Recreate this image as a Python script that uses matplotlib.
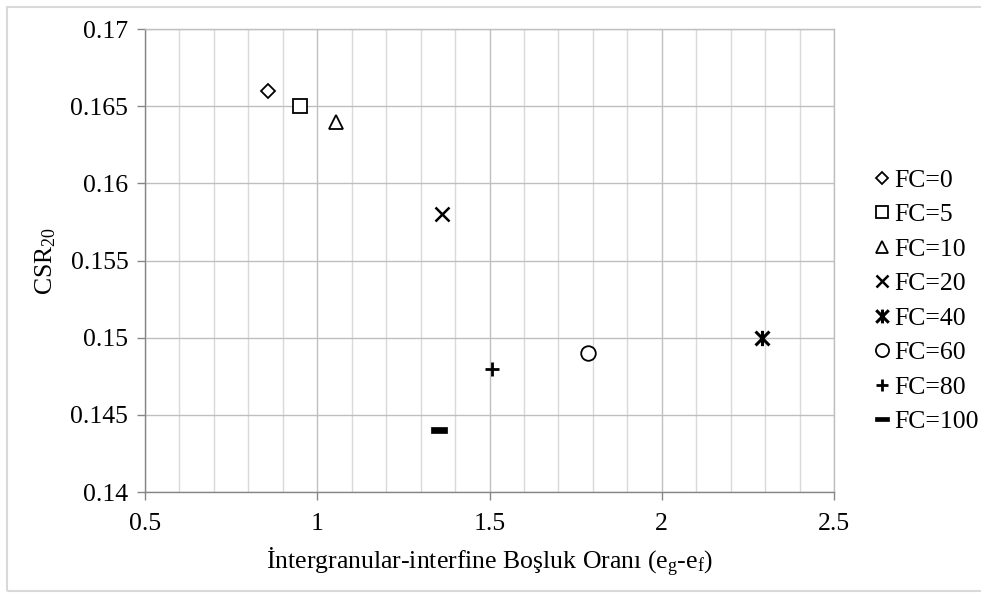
import matplotlib
matplotlib.use('Agg')
import matplotlib.pyplot as plt
from matplotlib.path import Path
from matplotlib.patches import Rectangle
from matplotlib.ticker import MultipleLocator

# Veriler
labels = ['FC=0', 'FC=5', 'FC=10', 'FC=20', 'FC=40', 'FC=60', 'FC=80', 'FC=100']
eg_ef = [0.858, 0.950, 1.053, 1.363, 2.292, 1.786, 1.507, 1.353]
csr20 = [0.166, 0.165, 0.164, 0.158, 0.150, 0.149, 0.148, 0.144]

plt.rcParams['font.family'] = ['Liberation Serif', 'DejaVu Serif']
plt.rcParams['mathtext.fontset'] = 'custom'
plt.rcParams['mathtext.rm'] = 'Liberation Serif'
plt.rcParams['mathtext.it'] = 'Liberation Serif:italic'

FS = 18.5

# Excel tarzı marker'lar
star = Path([(-1, -1), (1, 1), (-1, 1), (1, -1), (0, -1.1), (0, 1.1)],
            [Path.MOVETO, Path.LINETO, Path.MOVETO, Path.LINETO, Path.MOVETO, Path.LINETO])
dash = Path([(-1, -0.32), (1, -0.32), (1, 0.32), (-1, 0.32), (-1, -0.32)],
            [Path.MOVETO, Path.LINETO, Path.LINETO, Path.LINETO, Path.CLOSEPOLY])

styles = [
    dict(marker='D', ms=7, mfc='white', mew=1.3),
    dict(marker='s', ms=10, mfc='white', mew=1.3),
    dict(marker='^', ms=10, mfc='white', mew=1.3),
    dict(marker='x', ms=10, mew=1.8),
    dict(marker=star, ms=11, mew=2.2),
    dict(marker='o', ms=10.5, mfc='white', mew=1.3),
    dict(marker='+', ms=9.5, mew=2.0),
    dict(marker=dash, ms=11.5, mfc='black', mew=0.5),
]

fig = plt.figure(figsize=(9.81, 5.93), dpi=100)
ax = fig.add_axes([145 / 981, 1 - 492 / 593, (834 - 145) / 981, (492 - 29) / 593])

for x, y, lab, st in zip(eg_ef, csr20, labels, styles):
    ax.plot([x], [y], ls='none', color='black', mec='black', label=lab, **st)

ax.set_xlim(0.5, 2.5)
ax.set_ylim(0.14, 0.17)
ax.xaxis.set_major_locator(MultipleLocator(0.5))
ax.xaxis.set_minor_locator(MultipleLocator(0.1))
ax.yaxis.set_major_locator(MultipleLocator(0.005))
ax.set_xticks([0.5, 1, 1.5, 2, 2.5])
ax.set_xticklabels(['0.5', '1', '1.5', '2', '2.5'])
ax.set_yticks([0.14, 0.145, 0.15, 0.155, 0.16, 0.165, 0.17])
ax.set_yticklabels(['0.14', '0.145', '0.15', '0.155', '0.16', '0.165', '0.17'])

ax.grid(True, which='major', color='#bfbfbf', lw=1.0)
ax.grid(True, which='minor', axis='x', color='#d9d9d9', lw=1.0)
ax.set_axisbelow(True)

for s in ['top', 'right']:
    ax.spines[s].set_color('#bfbfbf')
    ax.spines[s].set_linewidth(1.0)
for s in ['left', 'bottom']:
    ax.spines[s].set_color('#868686')
    ax.spines[s].set_linewidth(1.0)

ax.tick_params(which='major', direction='out', length=6, width=1.0, color='#868686',
               labelsize=FS, pad=9)
ax.tick_params(which='minor', length=0)
ax.tick_params(axis='y', pad=6)

ax.set_xlabel(r'İntergranular-interfine Boşluk Oranı (e$_\mathrm{g}$-e$_\mathrm{f}$)',
              fontsize=FS, labelpad=8)
ax.set_ylabel(r'CSR$_\mathrm{20}$', fontsize=FS, labelpad=9)

ax.legend(loc='center left', bbox_to_anchor=(873 / 981, 1 - 301 / 593),
          bbox_transform=fig.transFigure, frameon=False, fontsize=FS,
          handlelength=0.7, handletextpad=0.12, labelspacing=0.45,
          borderpad=0, borderaxespad=0, markerscale=0.9)

# Dış çerçeve
fig.patches.append(Rectangle((7 / 981, 2 / 593), 1.2, 584 / 593, transform=fig.transFigure,
                             fill=False, ec='#d9d9d9', lw=1.5))

fig.savefig('out.png', dpi=100)
